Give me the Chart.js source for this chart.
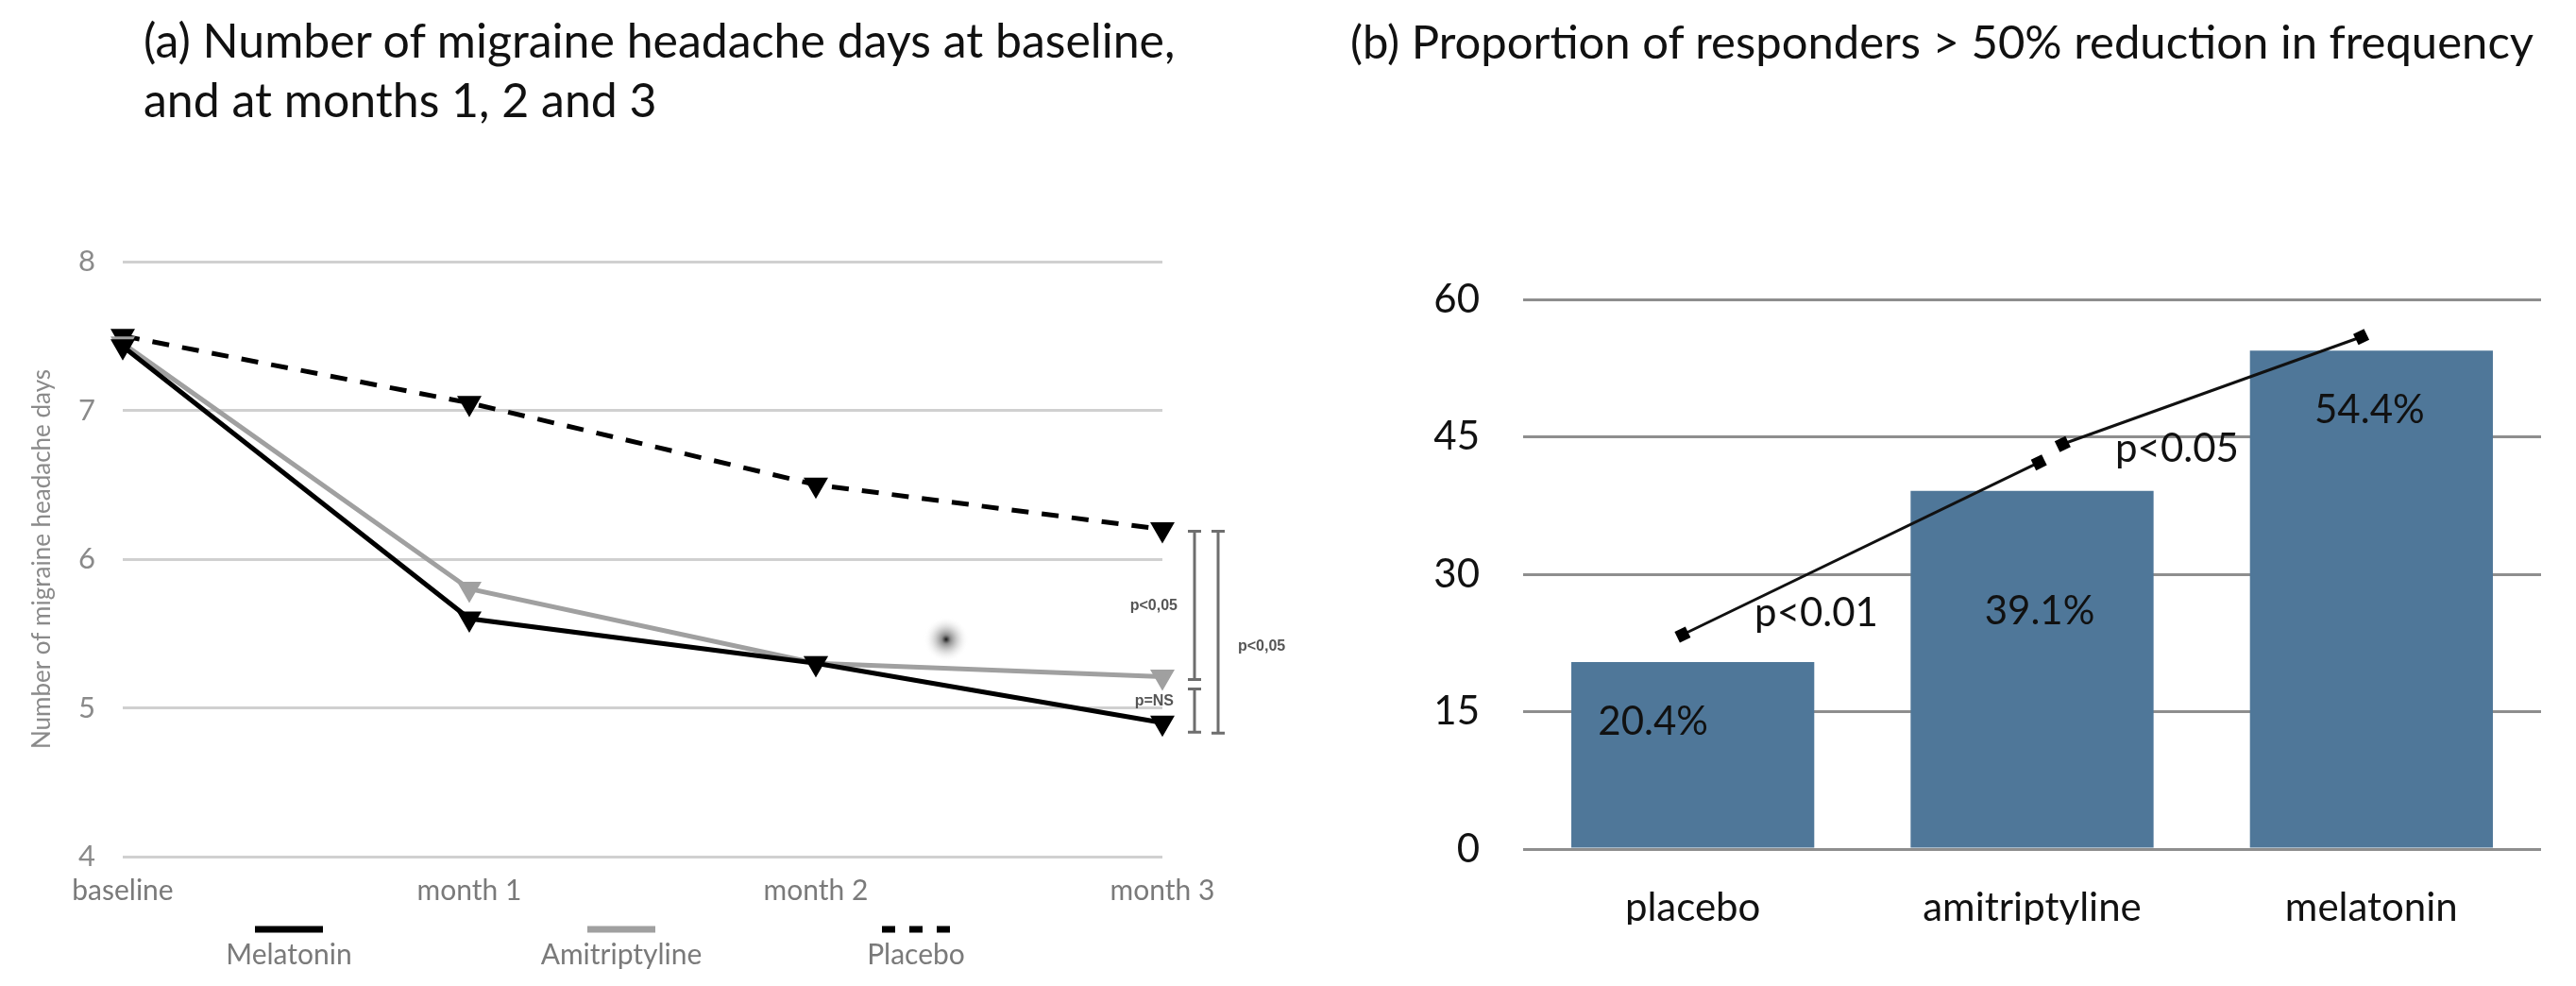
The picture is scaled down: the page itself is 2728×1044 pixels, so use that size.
<!DOCTYPE html>
<html lang="en">
  <head>
    <meta charset="UTF-8" />
    <title>Melatonin vs amitriptyline vs placebo</title>
    <style>
      body {
        margin: 0;
        background: #fff;
        width: 2728px;
        height: 1044px;
        position: relative;
        overflow: hidden;
        font-family: Lato, "Noto Sans", sans-serif;
      }
      .title {
        position: absolute;
        top: 11px;
        font-size: 50px;
        line-height: 63px;
        color: #111;
        white-space: nowrap;
      }
      #titleA { left: 152px; }
      #titleB { left: 1430px; font-size: 49px; top: 12px; }
      canvas { position: absolute; top: 0; }
      #lineChart { left: 0; }
      #barChart { left: 1360px; }
    </style>
    <script src="https://cdn.jsdelivr.net/npm/chart.js"></script>
  </head>
  <body>
    <div class="title" id="titleA">(a) Number of migraine headache days at baseline,<br />and at months 1, 2 and 3</div>
    <div class="title" id="titleB">(b) Proportion of responders &gt; 50% reduction in frequency</div>
    <canvas id="lineChart" width="1400" height="1044"></canvas>
    <canvas id="barChart" width="1368" height="1044"></canvas>
    <script>
      // (a) migraine days
      var months = ["baseline", "month 1", "month 2", "month 3"];
      var melatonin = [7.43, 5.6, 5.3, 4.9];
      var amitriptyline = [7.45, 5.8, 5.3, 5.21];
      var placebo = [7.5, 7.05, 6.5, 6.2];
      var dayTicks = [4, 5, 6, 7, 8];

      // (b) responders
      var groups = ["placebo", "amitriptyline", "melatonin"];
      var responders = [20.4, 39.1, 54.4];
      var responderTicks = [0, 15, 30, 45, 60];
      // significance connectors (x in category units, y in %)
      var sigLowX = [-0.03, 1.02];
      var sigLowY = [23.4, 42.2];
      var sigHighX = [1.09, 1.97];
      var sigHighY = [44.2, 55.9];
      var sigLabels = ["p<0.01", "p<0.05"];

      Chart.defaults.font.family = "Lato, 'Noto Sans', sans-serif";
      Chart.defaults.animation = false;

      var lineLegend = {
        id: "lineLegend",
        afterDraw: function (chart) {
          var ctx = chart.ctx;
          var xs = [306, 658, 970];
          ctx.save();
          chart.data.datasets.forEach(function (ds, i) {
            ctx.beginPath();
            ctx.strokeStyle = ds.borderColor;
            ctx.lineWidth = 7;
            ctx.setLineDash(ds.borderDash ? [14, 15] : []);
            ctx.moveTo(xs[i] - 36, 984);
            ctx.lineTo(xs[i] + 36, 984);
            ctx.stroke();
            ctx.setLineDash([]);
            ctx.fillStyle = "#7a7a7a";
            ctx.font = "30px Lato";
            ctx.textAlign = "center";
            ctx.textBaseline = "middle";
            ctx.fillText(ds.label, xs[i], 1011);
          });
          ctx.restore();
        },
      };

      var pBrackets = {
        id: "pBrackets",
        afterDatasetsDraw: function (chart) {
          var ctx = chart.ctx;
          var y = chart.scales.y;
          var x3 = chart.scales.x.getPixelForValue(3);
          var yP = y.getPixelForValue(placebo[3]);
          var yA = y.getPixelForValue(amitriptyline[3]);
          var yM = y.getPixelForValue(melatonin[3]);

          function bar(x, y0, y1) {
            ctx.beginPath();
            ctx.moveTo(x, y0);
            ctx.lineTo(x, y1);
            ctx.moveTo(x - 7, y0);
            ctx.lineTo(x + 7, y0);
            ctx.moveTo(x - 7, y1);
            ctx.lineTo(x + 7, y1);
            ctx.stroke();
          }

          ctx.save();
          // smudge in the scan
          var g = ctx.createRadialGradient(1002, 677, 0, 1002, 677, 24);
          g.addColorStop(0, "rgba(10,10,10,0.95)");
          g.addColorStop(0.2, "rgba(70,70,70,0.6)");
          g.addColorStop(1, "rgba(255,255,255,0)");
          ctx.fillStyle = g;
          ctx.fillRect(970, 645, 64, 64);

          ctx.strokeStyle = "#6e6e6e";
          ctx.lineWidth = 3;
          bar(x3 + 34, yP + 2, yA + 3);
          bar(x3 + 34, yA + 13, yM + 10);
          bar(x3 + 59, yP + 2, yM + 11);

          ctx.fillStyle = "#555";
          ctx.font = "bold 16px 'Liberation Sans', Arial, sans-serif";
          ctx.textBaseline = "middle";
          ctx.textAlign = "right";
          ctx.fillText("p<0,05", x3 + 16, (yP + yA) / 2 + 3);
          ctx.fillText("p=NS", x3 + 12, (yA + yM) / 2 + 2);
          ctx.textAlign = "left";
          ctx.fillText("p<0,05", x3 + 80, (yP + yM) / 2 + 22);
          ctx.restore();
        },
      };

      new Chart(document.getElementById("lineChart"), {
        type: "line",
        data: {
          labels: months,
          datasets: [
            {
              label: "Melatonin",
              data: melatonin,
              borderColor: "#000",
              backgroundColor: "#000",
              borderWidth: 5,
            },
            {
              label: "Amitriptyline",
              data: amitriptyline,
              borderColor: "#a0a0a0",
              backgroundColor: "#a0a0a0",
              borderWidth: 5,
            },
            {
              label: "Placebo",
              data: placebo,
              borderColor: "#000",
              backgroundColor: "#000",
              borderWidth: 5,
              borderDash: [18, 14],
            },
          ],
        },
        options: {
          responsive: false,
          devicePixelRatio: 1,
          clip: false,
          layout: { padding: { left: 0, top: 277, right: 169, bottom: 77 } },
          elements: {
            line: { tension: 0, fill: false },
            point: { pointStyle: "triangle", rotation: 180, radius: 10, borderWidth: 0 },
          },
          plugins: { legend: { display: false }, tooltip: { enabled: false } },
          scales: {
            x: {
              offset: false,
              grid: { display: false },
              border: { display: false },
              ticks: { color: "#7a7a7a", font: { size: 30 }, padding: 10, maxRotation: 0, autoSkip: false },
              afterFit: function (s) { s.height = 60; },
            },
            y: {
              min: dayTicks[0],
              max: dayTicks[dayTicks.length - 1],
              grid: { color: "#d0d0d0", lineWidth: 3, drawTicks: false },
              border: { display: false },
              ticks: { stepSize: dayTicks[1] - dayTicks[0], color: "#8a8a8a", font: { size: 31 }, padding: 29 },
              title: {
                display: true,
                text: "Number of migraine headache days",
                color: "#8a8a8a",
                font: { size: 26 },
                padding: { top: 29, bottom: 0 },
              },
              afterFit: function (s) { s.width = 130; },
            },
          },
        },
        plugins: [lineLegend, pBrackets],
      });

      var barLabels = {
        id: "barLabels",
        afterDatasetsDraw: function (chart) {
          var ctx = chart.ctx;
          var shift = [[-42, 63], [8, 128], [-2, 63]];
          ctx.save();
          ctx.fillStyle = "#111";
          ctx.font = "42px Lato";
          ctx.textAlign = "center";
          ctx.textBaseline = "middle";
          chart.getDatasetMeta(0).data.forEach(function (el, i) {
            ctx.fillText(responders[i].toFixed(1) + "%", el.x + shift[i][0], el.y + shift[i][1]);
          });
          var xs = chart.scales.xs;
          var ys = chart.scales.y;
          var mids = [
            [(sigLowX[0] + sigLowX[1]) / 2, (sigLowY[0] + sigLowY[1]) / 2, -47, 69],
            [(sigHighX[0] + sigHighX[1]) / 2, (sigHighY[0] + sigHighY[1]) / 2, -37, 62],
          ];
          mids.forEach(function (m, i) {
            ctx.fillText(sigLabels[i], xs.getPixelForValue(m[0]) + m[2], ys.getPixelForValue(m[1]) + m[3]);
          });
          ctx.restore();
        },
      };

      function pts(xv, yv) {
        return xv.map(function (v, i) { return { x: v, y: yv[i] }; });
      }

      var sigStyle = {
        type: "line",
        xAxisID: "xs",
        borderColor: "#111",
        borderWidth: 3,
        pointStyle: "rect",
        pointRotation: -26,
        pointRadius: 9,
        pointBackgroundColor: "#000",
        pointBorderWidth: 0,
        order: 1,
      };

      new Chart(document.getElementById("barChart"), {
        type: "bar",
        data: {
          labels: groups,
          datasets: [
            {
              label: "Responders (%)",
              data: responders,
              backgroundColor: "#4f7799",
              barPercentage: 0.716,
              categoryPercentage: 1,
              grouped: false,
              order: 2,
            },
            Object.assign({ label: sigLabels[0], data: pts(sigLowX, sigLowY) }, sigStyle),
            Object.assign({ label: sigLabels[1], data: pts(sigHighX, sigHighY) }, sigStyle),
          ],
        },
        options: {
          responsive: false,
          devicePixelRatio: 1,
          layout: { padding: { left: 0, top: 317, right: 37, bottom: 65 } },
          plugins: { legend: { display: false }, tooltip: { enabled: false } },
          scales: {
            x: {
              grid: { display: false },
              border: { display: false },
              ticks: { color: "#111", font: { size: 42 }, padding: 29 },
              afterFit: function (s) { s.height = 80; },
            },
            xs: { type: "linear", display: false, offset: false, min: -0.5, max: 2.5 },
            y: {
              min: responderTicks[0],
              max: responderTicks[responderTicks.length - 1],
              grid: { color: "#8e8e8e", lineWidth: 3, drawTicks: false },
              border: { display: false },
              ticks: { stepSize: responderTicks[1] - responderTicks[0], color: "#111", font: { size: 42 }, padding: 46 },
              afterFit: function (s) { s.width = 253; },
            },
          },
        },
        plugins: [barLabels],
      });
    </script>
  </body>
</html>
